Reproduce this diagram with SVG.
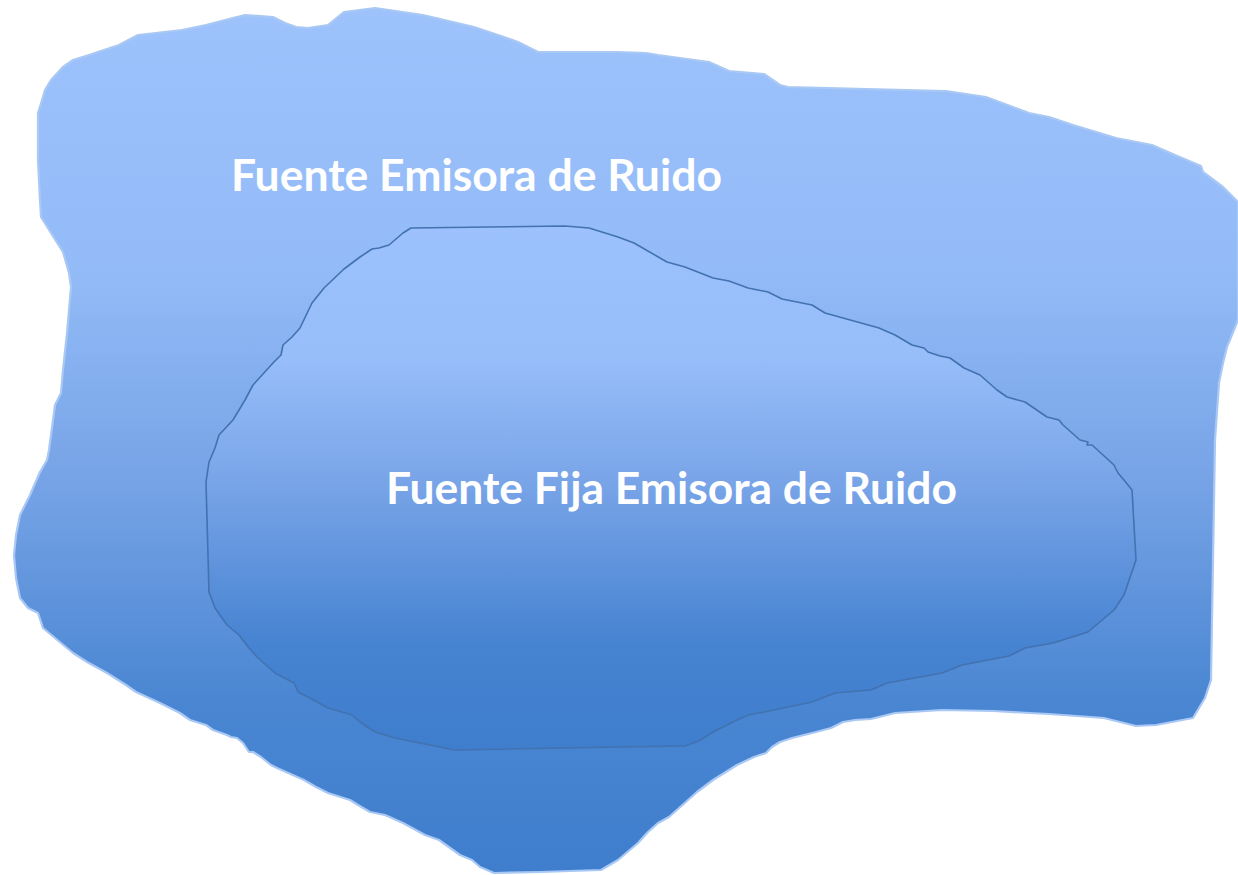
<svg xmlns="http://www.w3.org/2000/svg" width="1238" height="875" viewBox="0 0 1238 875">
<style>
.lbl{font-family:Lato,"Open Sans","Liberation Sans",sans-serif;font-weight:bold;font-size:43px;fill:#ffffff}
.outer{fill:url(#gOuter);stroke:#a9c8f4;stroke-width:2.2;stroke-linejoin:round}
.inner{fill:url(#gInner);stroke:#4272b0;stroke-width:1.6;stroke-linejoin:round}
</style>
<defs>
<linearGradient id="gOuter" x1="0" y1="0" x2="0" y2="1">
<stop offset="0" stop-color="#9dc2fc"/>
<stop offset="0.3" stop-color="#93bbf7"/>
<stop offset="0.55" stop-color="#76a3e6"/>
<stop offset="0.8" stop-color="#4a86d2"/>
<stop offset="1" stop-color="#3f7ecd"/>
</linearGradient>
<linearGradient id="gInner" x1="0" y1="0" x2="0" y2="1">
<stop offset="0" stop-color="#9cc1fc"/>
<stop offset="0.25" stop-color="#97bef9"/>
<stop offset="0.5" stop-color="#77a3e7"/>
<stop offset="0.8" stop-color="#4683d1"/>
<stop offset="1" stop-color="#3f7ecd"/>
</linearGradient>
</defs>
<g id="fuente-emisora">
<path class="outer" d="M51,80 L63,67 L73,60 L89,55 L119,45 L138,35 L182,30 L206,25 L233,18 L245,15 L273,17 L285,23 L296,27 L308,28 L328,25 L344,12 L375,8 L423,15 L474,27 L498,35 L518,42 L538,52 L618,52 L646,53 L658,55 L709,62 L729,71 L764,74 L780,85 L788,87 L946,91 L986,97 L1029,113 L1049,117 L1073,125 L1116,138 L1152,145 L1175,155 L1201,166 L1203,172 L1223,187 L1238,202 L1238,320 L1227,347 L1223,363 L1219,383 L1215,440 L1213,560 L1211,680 L1205,698 L1193,718 L1156,725 L1136,726 L1124,723 L1104,718 L1049,714 L993,711 L942,710 L895,713 L871,719 L855,720 L843,722 L831,728 L816,732 L792,738 L780,742 L772,747 L766,753 L754,757 L737,765 L713,780 L697,792 L669,817 L658,823 L648,832 L638,843 L618,860 L601,870 L540,872 L494,873 L480,867 L472,860 L460,855 L439,840 L425,835 L403,823 L385,815 L370,812 L358,805 L350,800 L328,793 L316,787 L304,780 L277,768 L271,765 L261,757 L253,752 L249,752 L243,743 L237,738 L231,737 L227,735 L213,730 L206,725 L190,720 L180,713 L160,703 L136,692 L126,685 L107,673 L87,662 L73,653 L61,643 L43,628 L38,613 L28,608 L20,598 L16,578 L14,555 L16,535 L20,515 L24,507 L30,495 L40,472 L47,460 L49,450 L51,435 L55,405 L61,393 L63,370 L67,333 L71,287 L69,273 L63,252 L51,233 L41,217 L40,200 L38,160 L38,113 L43,97 L45,90 Z"/>
<text class="lbl" x="231" y="191" textLength="491" lengthAdjust="spacingAndGlyphs">Fuente Emisora de Ruido</text>
</g>
<g id="fuente-fija">
<path class="inner" d="M411,228 L565,226 L589,228 L618,237 L634,243 L667,262 L685,267 L713,278 L729,281 L748,288 L768,292 L782,299 L812,305 L825,313 L879,328 L895,335 L912,345 L924,348 L928,352 L940,356 L950,358 L964,368 L980,375 L997,390 L1007,397 L1025,402 L1047,417 L1059,420 L1063,425 L1080,440 L1088,442 L1087,445 L1092,445 L1114,465 L1118,473 L1124,480 L1132,490 L1136,560 L1124,595 L1114,610 L1088,632 L1053,643 L1025,648 L1009,656 L962,665 L942,673 L887,683 L871,690 L835,693 L812,702 L764,712 L748,715 L733,722 L713,732 L699,741 L685,746 L618,747 L455,750 L395,738 L375,732 L360,722 L352,715 L328,708 L310,698 L298,692 L294,683 L275,673 L257,657 L249,648 L239,635 L227,625 L215,608 L209,592 L206,482 L209,462 L215,448 L219,435 L233,420 L245,400 L253,385 L273,363 L281,355 L283,345 L292,337 L300,328 L312,303 L324,288 L344,269 L360,257 L372,249 L379,248 L389,245 L403,233 Z"/>
<text class="lbl" x="386" y="504" textLength="571" lengthAdjust="spacingAndGlyphs">Fuente Fija Emisora de Ruido</text>
</g>
<g id="connectors"/>
</svg>
